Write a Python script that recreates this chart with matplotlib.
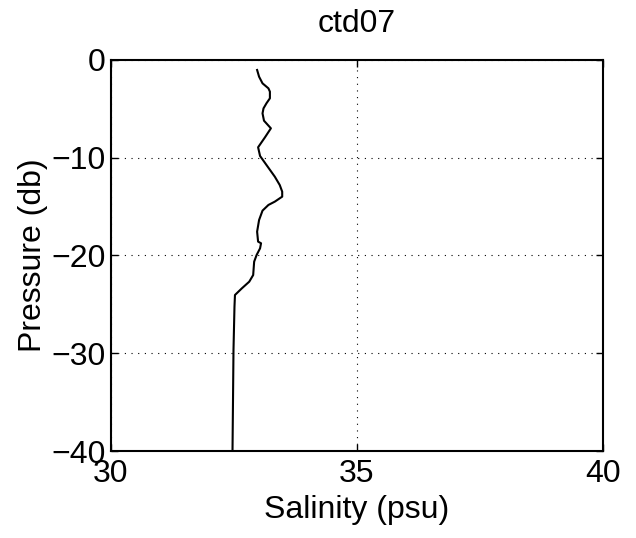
import matplotlib
matplotlib.use("Agg")
import matplotlib.pyplot as plt

# CTD cast ctd07: salinity profile
salinity = [32.97, 33.01, 33.08, 33.20, 33.23, 33.23, 33.16, 33.10, 33.08,
            33.11, 33.25, 33.13, 32.99, 33.03, 33.16, 33.33, 33.43, 33.48,
            33.48, 33.33, 33.20, 33.08, 33.01, 32.97, 32.99, 33.05, 33.03,
            32.96, 32.91, 32.89, 32.81, 32.66, 32.52, 32.51, 32.49, 32.47]
pressure = [-1.02, -1.71, -2.39, -2.90, -3.24, -3.92, -4.43, -4.95, -5.46,
            -6.21, -6.99, -7.91, -8.93, -9.82, -10.74, -11.94, -12.79, -13.47,
            -13.98, -14.49, -14.83, -15.41, -16.37, -17.56, -18.58, -18.75, -19.27,
            -19.95, -20.63, -22.0, -22.68, -23.36, -24.04, -25.24, -29.67, -40.0]

x_ticks = [30, 35, 40]
y_ticks = [-40, -30, -20, -10, 0]

plt.rcParams["font.family"] = ["Liberation Sans", "DejaVu Sans"]
fs = 23

fig = plt.figure(figsize=(6.36, 5.38), dpi=100)
ax = fig.add_axes([0.1745, 0.1617, 0.7736, 0.7268])

ax.plot(salinity, pressure, color="black", lw=1.5)

ax.set_xlim(30, 40)
ax.set_ylim(-40, 0)
ax.set_xticks(x_ticks)
ax.set_yticks(y_ticks)
ax.grid(True, color="black", linestyle=(0, (1, 5)), linewidth=0.8)

ax.tick_params(direction="in", length=5, width=1, top=True, right=True,
               labelsize=fs)
ax.tick_params(axis="x", pad=6)
ax.tick_params(axis="y", pad=4)
for sp in ax.spines.values():
    sp.set_linewidth(1.5)

ax.set_title("ctd07", fontsize=fs, pad=20)
ax.set_xlabel("Salinity (psu)", fontsize=fs, labelpad=4)
ax.set_ylabel("Pressure (db)", fontsize=fs, labelpad=2)

fig.savefig("out.png", dpi=100, facecolor="white")
